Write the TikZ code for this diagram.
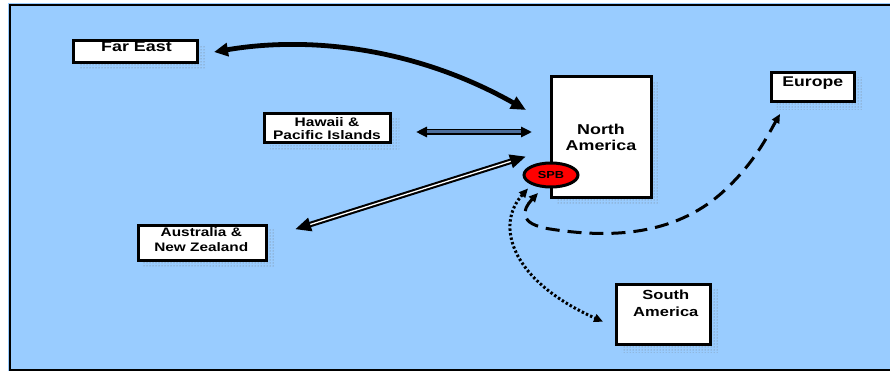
\documentclass[tikz,border=0pt]{standalone}
\usepackage{fontspec}
\newfontfamily\lab{Liberation Sans}[FakeStretch=1.25]
\usetikzlibrary{arrows.meta,patterns,backgrounds,shapes.geometric}
\definecolor{skybg}{HTML}{99CCFF}
\definecolor{steel}{HTML}{4D6E9C}
\definecolor{spbred}{HTML}{FF0000}
\begin{document}
\begin{tikzpicture}[x=1pt,y=-1pt,
  box/.style={draw=black, line width=3pt, fill=white, inner sep=0pt, rectangle},
  lbl/.style={inner sep=0pt, align=center, anchor=north},
  shadowpat/.style={pattern=dots, pattern color=black!55},
  bigarrow/.style={line width=4.8pt, {Triangle[length=14pt,width=13pt]}-{Triangle[length=15pt,width=13pt]}},
  hwarrow/.style={line width=5.5pt, {Triangle[length=11pt,width=10pt]}-{Triangle[length=11pt,width=10pt]}},
  auarrow/.style={line width=5.5pt, {Triangle[length=16pt,width=13pt]}-{Triangle[length=16pt,width=13pt]}},
  dasharrow/.style={line width=3pt, dash pattern=on 14pt off 8pt, {Triangle[length=9pt,width=8pt]}-{Triangle[length=9pt,width=8pt]}},
  dotarrow/.style={line width=3pt, dash pattern=on 2.4pt off 2.2pt, {Triangle[length=9pt,width=8pt]}-{Triangle[length=9pt,width=8pt]}}
]
\useasboundingbox (0,0) rectangle (890,371);
\begin{scope}[on background layer]
  \fill[skybg] (8,3.3) rectangle (890,371);
  \draw[line width=2pt] (890,5.3) -- (10,5.3) -- (10,370) -- (890,370);
\end{scope}

% boxes
\node[box, minimum width=124pt, minimum height=22pt] (fe) at (135.5,51.5) {};
\node[box, minimum width=126pt, minimum height=29pt] (hw) at (327.5,128) {};
\node[box, minimum width=100pt, minimum height=121pt] (na) at (601,137) {};
\node[box, minimum width=128pt, minimum height=35pt] (au) at (202,242.5) {};
\node[box, minimum width=94pt, minimum height=60pt] (sa) at (663,314.7) {};
\node[box, minimum width=83pt, minimum height=29pt] (eu) at (812.8,87.2) {};

\begin{scope}[on background layer]
  \foreach \n in {fe,hw,na,au,sa,eu}
    \fill[shadowpat] ([shift={(7,6)}]\n.south west) rectangle ([shift={(7,6)}]\n.north east);
\end{scope}

% labels
\node[lbl, anchor=base, font=\lab\bfseries\fontsize{14.3}{16}\selectfont] (fet) at (136.5,52) {Far East};
\node[lbl, anchor=base, font=\lab\bfseries\fontsize{14.1}{16}\selectfont] (eut) at (812.8,87) {Europe};
\node[lbl, font=\lab\bfseries\fontsize{12.4}{12.8}\selectfont] (hwt) at (327,117.5) {Hawaii \&\\Pacific Islands};
\node[lbl, font=\lab\bfseries\fontsize{14.3}{16.7}\selectfont] (nat) at (601,123.5) {North\\America};
\node[lbl, font=\lab\bfseries\fontsize{12.3}{15}\selectfont] (aut) at (201.3,227.8) {Australia \&\\New Zealand};
\node[lbl, font=\lab\bfseries\fontsize{13.2}{17.4}\selectfont] (sat) at (665.8,289.6) {South\\America};

% connector end points
\coordinate (feA) at (214,52);
\coordinate (naA) at (526,110);
\coordinate (hwA) at (416,132);
\coordinate (naB) at (532,132);
\coordinate (auA) at (295,229.3);
\coordinate (naC) at (526,156.5);
\coordinate (spbA) at (538,193);
\coordinate (euA) at (780,114);
\coordinate (spbB) at (528,188.5);
\coordinate (saA) at (603,321.7);

% connectors
\draw[bigarrow] (feA) .. controls (314,35) and (420,50) .. (naA);
\draw[hwarrow] (hwA) -- (naB);
\draw[line width=3pt, steel, shorten <=11pt, shorten >=11pt] (hwA) -- (naB);
\draw[auarrow] (auA) -- (naC);
\draw[line width=1.3pt, white, shorten <=16pt, shorten >=16pt] (auA) -- (naC);
\draw[dasharrow] (spbA) .. controls (522,210) and (518,224) .. (550,229)
  .. controls (620,240) and (680,232) .. (725,190)
  .. controls (755,162) and (768,135) .. (euA);
\draw[dotarrow] (spbB) .. controls (495,225) and (510,280) .. (saA);

% SPB
\node[ellipse, draw=black, line width=3pt, fill=spbred, minimum width=54pt, minimum height=24pt, inner sep=0pt,
  font=\lab\bfseries\fontsize{10.2}{12}\selectfont] (spb) at (551,175) {SPB};
\end{tikzpicture}
\end{document}
